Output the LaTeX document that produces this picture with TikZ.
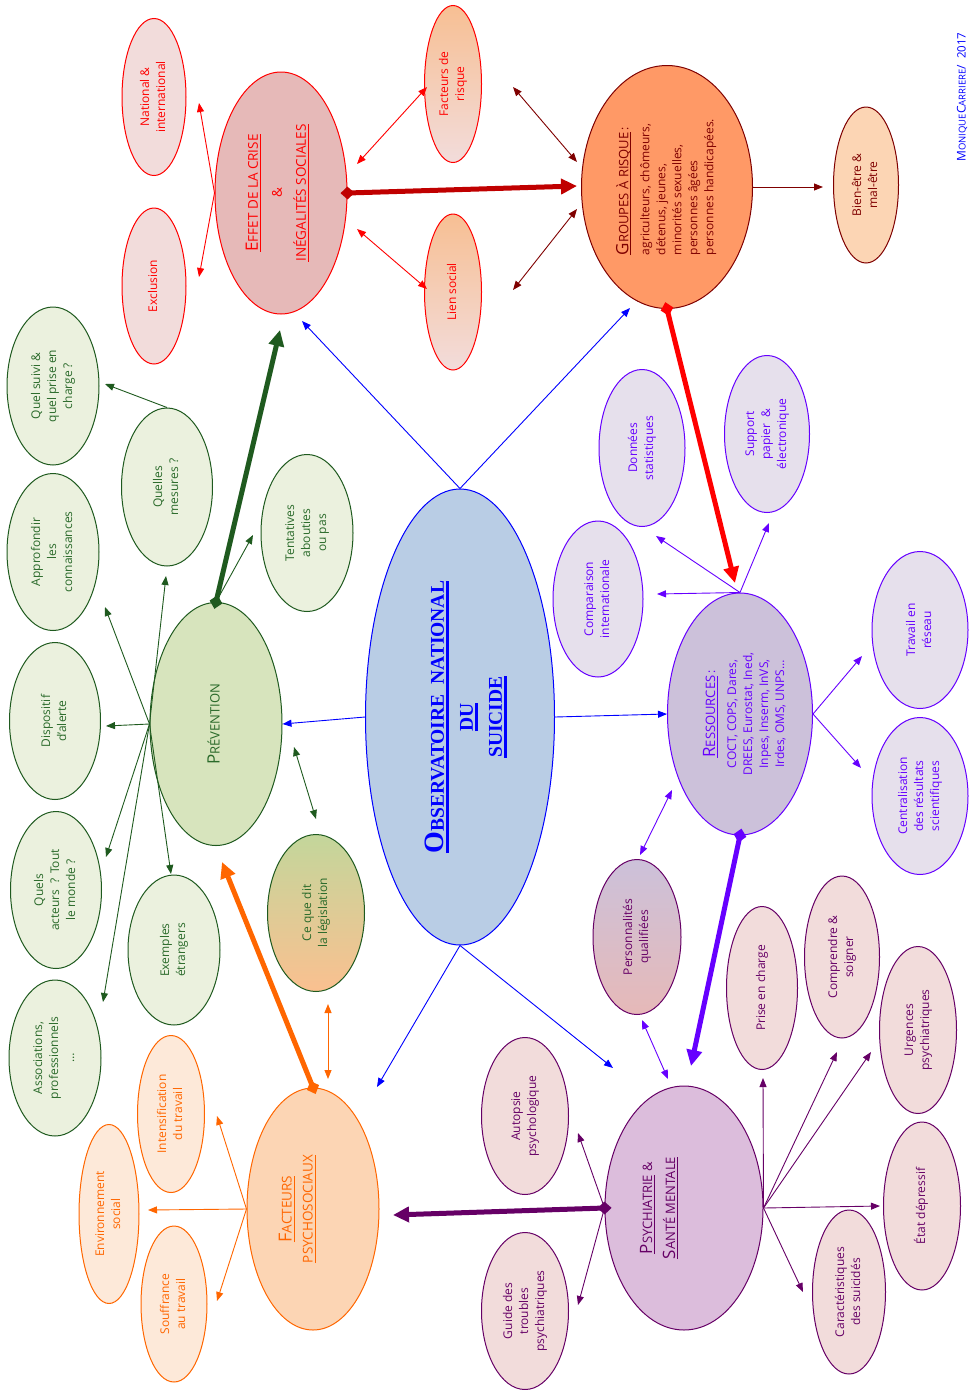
\documentclass[tikz,border=0pt]{standalone}
\usepackage{fontspec}
\setmainfont{Open Sans}
\newfontfamily\obsfont{Liberation Serif}
\usepackage{graphicx}
\usetikzlibrary{shapes.geometric,arrows.meta}
\definecolor{cRed}{HTML}{FF0000}
\definecolor{cPinkA}{HTML}{F2DCDB}
\definecolor{cEffet}{HTML}{E6B9B8}
\definecolor{cDkRed}{HTML}{7F0000}
\definecolor{cBrick}{HTML}{C00000}
\definecolor{cGrp}{HTML}{FF9966}
\definecolor{cPeach}{HTML}{FCD5B4}
\definecolor{cLtOr}{HTML}{FDE9D9}
\definecolor{cOr}{HTML}{FF6600}
\definecolor{cFdr}{HTML}{F7BF93}
\definecolor{cGreen}{HTML}{1F5A1F}
\definecolor{cGreenTxt}{HTML}{2A6A2A}
\definecolor{cLtGreen}{HTML}{EBF1DE}
\definecolor{cPrev}{HTML}{D7E4BD}
\definecolor{cLegTop}{HTML}{C3D69B}
\definecolor{cLegBot}{HTML}{FAC090}
\definecolor{cBlue}{HTML}{0000FF}
\definecolor{cObs}{HTML}{B9CDE5}
\definecolor{cViolet}{HTML}{6600FF}
\definecolor{cLav}{HTML}{E6E0EC}
\definecolor{cRes}{HTML}{CCC1DA}
\definecolor{cPurple}{HTML}{660066}
\definecolor{cPsy}{HTML}{DCBDDC}
\definecolor{cPqBot}{HTML}{E6B9B8}
\newcommand\vt[1]{\rotatebox{90}{\begin{tabular}{@{}c@{}}#1\end{tabular}}}
\newcommand\vtl[1]{\rotatebox{90}{\begin{tabular}{@{}l@{}}#1\end{tabular}}}
% shift rotated content horizontally on the page by #1 (negative = left)
\newcommand\shx[2]{\makebox[0pt]{\kern#1\kern#1#2}}
\newcommand\myul[2][0.8pt]{\sbox0{#2}\makebox[0pt][l]{\usebox0}\rule[-2.8pt]{\wd0}{#1}}
\newcommand\tul[1]{\sbox0{#1}\makebox[0pt][l]{\usebox0}\rule[-5pt]{\wd0}{2.6pt}}
\newcommand\fs[2]{{\fontsize{#1}{#1}\selectfont #2}}
\tikzset{
  oval/.style={ellipse,inner sep=0pt,line width=1pt},
  sz/.style 2 args={minimum width=#1pt,minimum height=#2pt},
  redsm/.style={oval,draw=cRed,fill=cPinkA,text=cRed},
  grsm/.style={oval,draw=cGreen,fill=cLtGreen,text=cGreenTxt},
  orsm/.style={oval,draw=cOr,fill=cLtOr,text=cOr},
  vism/.style={oval,draw=cViolet,fill=cLav,text=cViolet},
  pusm/.style={oval,draw=cPurple,fill=cPinkA,text=cPurple},
  arr/.style={line width=0.9pt,-{Triangle[length=9pt,width=7pt]}},
  darr/.style={line width=0.9pt,{Triangle[length=9pt,width=7pt]}-{Triangle[length=9pt,width=7pt]}},
  bigarr/.style={line width=5pt,shorten <=-7pt,{Diamond[length=14pt,width=13pt]}-{Triangle[length=16pt,width=15pt]}},
}
\begin{document}
\begin{tikzpicture}[x=1pt,y=-1pt,every node/.style={font=\fontsize{12}{16}\selectfont}]
\useasboundingbox (0,0) rectangle (975,1390);
% ---------- red / crisis group
\node[redsm,sz={64}{157}] (nat) at (154,97) {\vt{National \&\\international}};
\node[redsm,sz={64}{156}] (excl) at (154,286) {\vt{Exclusion}};
\node[oval,draw=cRed,fill=cEffet,text=cRed,sz={132}{242}] (effet) at (281,193)
  {\fontsize{13.5}{24}\selectfont\shx{-4pt}{\vt{\myul{\fs{17}{E}FFET DE LA CRISE}\\\&\\\myul{INÉGALITÉS SOCIALES}}}};
\node[oval,draw=cRed,top color=cFdr,bottom color=cPinkA,text=cRed,sz={57}{157}] (fdr) at (453,84) {\vt{Facteurs de\\risque}};
\node[oval,draw=cRed,top color=cFdr,bottom color=cPinkA,text=cRed,sz={57}{156}] (lien) at (453,292) {\vt{Lien social}};
\node[oval,draw=cDkRed,fill=cGrp,text=cDkRed,sz={171}{243}] (grp) at (667,187)
  {\vtl{\myul{\fs{17}{G}{\fontsize{13}{16}\selectfont ROUPES À RISQUE}}\,:\\[5pt]agriculteurs, chômeurs,\\détenus, jeunes,\\minorités sexuelles,\\personnes âgées\\personnes handicapées.}};
\node[oval,draw=cDkRed,fill=cPeach,text=cDkRed,sz={65}{156}] (bien) at (866,185) {\vt{Bien-être \&\\mal-être}};
\node[text=cBlue,inner sep=0pt] (mc) at (962,97) {\rotatebox{90}{\fs{12}{M}\fs{9.5}{ONIQUE}\fs{12}{C}\fs{9.5}{ARRIERE}/~~\fs{11.5}{2017}}};
% ---------- green / prevention group
\node[grsm,sz={92}{158}] (qsuivi) at (53,386) {\vt{Quel suivi \&\\quel prise en\\charge ?}};
\node[grsm,sz={91}{158}] (qm) at (167,487) {\vt{Quelles\\mesures ?}};
\node[grsm,sz={92}{157}] (appr) at (53,552) {\vt{Approfondir\\les\\connaissances}};
\node[grsm,sz={92}{157}] (tent) at (307,533) {\vt{Tentatives\\abouties\\ou pas}};
\node[oval,draw=cGreen,fill=cPrev,text=cGreenTxt,sz={132}{243}] (prev) at (216,724) {\vt{\fs{17}{P}{\fontsize{13}{16}\selectfont RÉVENTION}}};
\node[grsm,sz={91}{157}] (disp) at (55,721) {\vt{Dispositif\\d’alerte}};
\node[grsm,sz={91}{157}] (qa) at (56,890) {\vt{Quels\\acteurs~~? Tout\\le monde ?}};
\node[grsm,sz={92}{150}] (ex) at (174,950) {\vt{Exemples\\étrangers}};
\node[grsm,sz={92}{156}] (assoc) at (55,1058) {\vt{Associations,\\professionnels\\…}};
\node[oval,draw=cGreen,top color=cLegTop,bottom color=cLegBot,text=cGreenTxt,sz={97}{157}] (legis) at (316,913) {\vt{Ce que dit\\la législation}};
% ---------- centre
\node[oval,draw=cBlue,fill=cObs,text=cBlue,sz={189}{456}] (obs) at (460,717)
  {\obsfont\bfseries\fontsize{19.5}{29}\selectfont\shx{7pt}{\vt{\tul{\fs{28}{O}BSERVATOIRE~~NATIONAL}\\\tul{DU}\\\tul{SUICIDE}}}};
% ---------- orange group
\node[orsm,sz={67}{157}] (intens) at (171,1114) {\vt{Intensification\\du travail}};
\node[orsm,sz={60}{179}] (env) at (109,1214) {\vt{Environnement\\social}};
\node[orsm,sz={66}{156}] (souff) at (174,1304) {\vt{Souffrance\\au travail}};
\node[oval,draw=cOr,fill=cPeach,text=cOr,sz={132}{242}] (fp) at (313,1209)
  {\fontsize{13.5}{21}\selectfont\shx{-15pt}{\vt{\myul{\fs{18}{F}ACTEURS}\\\myul{PSYCHOSOCIAUX}}}};
% ---------- violet group
\node[vism,sz={86}{157}] (don) at (642,448) {\vt{Données\\statistiques}};
\node[vism,sz={85}{157}] (supp) at (767,434) {\vt{Support\\papier~~\&\\électronique}};
\node[vism,sz={90}{156}] (comp) at (598,599) {\vt{Comparaison\\internationale}};
\node[oval,draw=cViolet,fill=cRes,text=cViolet,sz={145}{242}] (res) at (740,714)
  {\shx{6pt}{\vt{\myul{\fs{17}{R}{\fontsize{13}{16}\selectfont ESSOURCES}}\,:\\[5pt]COCT, COPS, Dares,\\DREES, Eurostat, Ined,\\Inpes, Inserm, InVS,\\Irdes, OMS, UNPS…}}};
\node[vism,sz={96}{157}] (trav) at (920,630) {\vt{Travail en\\réseau}};
\node[vism,sz={96}{157}] (cent) at (920,796) {\vt{Centralisation\\des résultats\\scientifiques}};
% ---------- purple group
\node[oval,draw=cPurple,top color=cRes,bottom color=cPqBot,text=cPurple,sz={88}{155}] (pq) at (637,937) {\vt{Personnalités\\qualifiées}};
\node[pusm,sz={71}{163}] (prise) at (762,988) {\vt{Prise en charge}};
\node[pusm,sz={75}{162}] (compr) at (842,957) {\vt{Comprendre \&\\soigner}};
\node[pusm,sz={77}{167}] (urg) at (918,1030) {\vt{Urgences\\psychiatriques}};
\node[pusm,sz={77}{168}] (etat) at (922,1206) {\vt{État dépressif}};
\node[pusm,sz={73}{164}] (car) at (849,1292) {\vt{Caractéristiques\\des suicidés}};
\node[pusm,sz={87}{157}] (aut) at (525,1116) {\vt{Autopsie\\psychologique}};
\node[pusm,sz={87}{157}] (guide) at (525,1311) {\vt{Guide des\\troubles\\psychiatriques}};
\node[oval,draw=cPurple,fill=cPsy,text=cPurple,sz={158}{244}] (psy) at (684,1208)
  {\fontsize{13}{23}\selectfont\shx{-25pt}{\vt{\myul{\fs{17}{P}SYCHIATRIE}~\&\\\myul{\fs{17}{S}ANTÉ MENTALE}}}};
% ---------- free connector ends
\coordinate (bE) at (302,321); \coordinate (bG) at (630,308);
\coordinate (bF) at (377,1087); \coordinate (bP) at (613,1068);
\coordinate (tG) at (577,186); \coordinate (tR) at (735,583);
\coordinate (tP) at (691,1066); \coordinate (tF) at (393,1215);
\coordinate (tV) at (222,862); \coordinate (tE) at (280,330);
\coordinate (rN) at (199,103); \coordinate (rX) at (199,277);
\coordinate (rFa) at (357,164); \coordinate (rFb) at (427,87);
\coordinate (rLa) at (357,229); \coordinate (rLb) at (427,289);
\coordinate (dFa) at (513,87); \coordinate (dFb) at (577,162);
\coordinate (dLa) at (513,290); \coordinate (dLb) at (577,209);
\coordinate (dB) at (823,187);
\coordinate (g1) at (106,726); \coordinate (g2) at (105,607);
\coordinate (g3) at (166,576); \coordinate (g4) at (106,857);
\coordinate (g5) at (171,874); \coordinate (g6) at (103,1002);
\coordinate (g7) at (253,535); \coordinate (g8) at (105,384);
\coordinate (gLa) at (294,747); \coordinate (gLb) at (316,819);
\coordinate (oLa) at (328,1004); \coordinate (oLb) at (328,1079);
\coordinate (o1) at (217,1116); \coordinate (o2) at (148,1210); \coordinate (o3) at (217,1301);
\coordinate (v1) at (657,594); \coordinate (v2) at (656,536); \coordinate (v3) at (769,523);
\coordinate (v4) at (862,656); \coordinate (v5) at (861,768);
\coordinate (vPa) at (640,855); \coordinate (vPb) at (672,790);
\coordinate (vQa) at (642,1020); \coordinate (vQb) at (668,1079);
\coordinate (p1) at (763,1078); \coordinate (p2) at (837,1052); \coordinate (p3) at (871,1052);
\coordinate (p4) at (880,1206); \coordinate (p5) at (803,1292);
\coordinate (p6) at (578,1133); \coordinate (p7) at (578,1305);
% ---------- blue connectors
\draw[arr,cBlue] (obs.north) -- (bE);
\draw[arr,cBlue] (obs.north) -- (bG);
\draw[arr,cBlue] (obs.west) -- (prev.east);
\draw[arr,cBlue] (obs.east) -- (res.west);
\draw[arr,cBlue] (obs.south) -- (bF);
\draw[arr,cBlue] (obs.south) -- (bP);
% ---------- red connectors
\draw[arr,cRed] (effet.west) -- (rN);
\draw[arr,cRed] (effet.west) -- (rX);
\draw[darr,cRed] (rFa) -- (rFb);
\draw[darr,cRed] (rLa) -- (rLb);
\draw[darr,cDkRed] (dFa) -- (dFb);
\draw[darr,cDkRed] (dLa) -- (dLb);
\draw[arr,cDkRed] (grp.east) -- (dB);
% ---------- green connectors
\draw[arr,cGreen] (prev.west) -- (g1);
\draw[arr,cGreen] (prev.west) -- (g2);
\draw[arr,cGreen] (prev.west) -- (g3);
\draw[arr,cGreen] (prev.west) -- (g4);
\draw[arr,cGreen] (prev.west) -- (g5);
\draw[arr,cGreen] (prev.west) -- (g6);
\draw[arr,cGreen] (prev.north) -- (g7);
\draw[arr,cGreen] (qm.north) -- (g8);
\draw[darr,cGreen] (gLa) -- (gLb);
% ---------- orange connectors
\draw[darr,cOr] (oLa) -- (oLb);
\draw[arr,cOr] (fp.west) -- (o1);
\draw[arr,cOr] (fp.west) -- (o2);
\draw[arr,cOr] (fp.west) -- (o3);
% ---------- violet connectors
\draw[arr,cViolet] (res.north) -- (v1);
\draw[arr,cViolet] (res.north) -- (v2);
\draw[arr,cViolet] (res.north) -- (v3);
\draw[arr,cViolet] (res.east) -- (v4);
\draw[arr,cViolet] (res.east) -- (v5);
\draw[darr,cViolet] (vPa) -- (vPb);
\draw[darr,cViolet] (vQa) -- (vQb);
% ---------- purple connectors
\draw[arr,cPurple] (psy.east) -- (p1);
\draw[arr,cPurple] (psy.east) -- (p2);
\draw[arr,cPurple] (psy.east) -- (p3);
\draw[arr,cPurple] (psy.east) -- (p4);
\draw[arr,cPurple] (psy.east) -- (p5);
\draw[arr,cPurple] (psy.west) -- (p6);
\draw[arr,cPurple] (psy.west) -- (p7);
% ---------- thick connectors
\draw[bigarr,cBrick] (effet.east) -- (tG);
\draw[bigarr,cRed] (grp.south) -- (tR);
\draw[bigarr,cViolet] (res.south) -- (tP);
\draw[bigarr,cPurple] (psy.west) -- (tF);
\draw[bigarr,cOr] (fp.north) -- (tV);
\draw[bigarr,cGreen] (prev.north) -- (tE);
\end{tikzpicture}
\end{document}
